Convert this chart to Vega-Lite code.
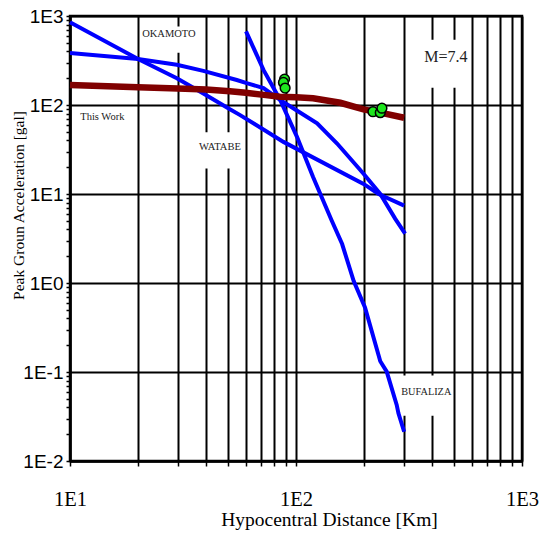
{
  "$schema": "https://vega.github.io/schema/vega-lite/v6.json",
  "width": 452,
  "height": 445,
  "autosize": {"type": "none"},
  "padding": {"left": 70, "top": 16, "right": 20, "bottom": 73},
  "background": "white",
  "config": {
    "view": {"stroke": "black", "strokeWidth": 2.5},
    "axis": {"domainColor": "black", "domainWidth": 2.5, "tickColor": "black", "tickWidth": 1.5}
  },
  "datasets": {
    "lines": [
      {"series": "This Work", "x": 10, "y": 168},
      {"series": "This Work", "x": 20, "y": 158},
      {"series": "This Work", "x": 30, "y": 153},
      {"series": "This Work", "x": 40, "y": 149},
      {"series": "This Work", "x": 51, "y": 143},
      {"series": "This Work", "x": 60, "y": 137},
      {"series": "This Work", "x": 72, "y": 130},
      {"series": "This Work", "x": 85, "y": 124},
      {"series": "This Work", "x": 100, "y": 122},
      {"series": "This Work", "x": 119, "y": 119},
      {"series": "This Work", "x": 157, "y": 106},
      {"series": "This Work", "x": 199, "y": 89.4},
      {"series": "This Work", "x": 236, "y": 82},
      {"series": "This Work", "x": 301, "y": 72},
      {"series": "OKAMOTO", "x": 10, "y": 850},
      {"series": "OKAMOTO", "x": 20, "y": 328},
      {"series": "OKAMOTO", "x": 29.7, "y": 200},
      {"series": "OKAMOTO", "x": 38.9, "y": 135},
      {"series": "OKAMOTO", "x": 51, "y": 89.4},
      {"series": "OKAMOTO", "x": 56.6, "y": 77},
      {"series": "OKAMOTO", "x": 88, "y": 38.5},
      {"series": "OKAMOTO", "x": 199, "y": 13},
      {"series": "OKAMOTO", "x": 232, "y": 10},
      {"series": "OKAMOTO", "x": 301, "y": 7.4},
      {"series": "WATABE", "x": 10, "y": 384},
      {"series": "WATABE", "x": 20, "y": 328},
      {"series": "WATABE", "x": 29.7, "y": 283},
      {"series": "WATABE", "x": 38.9, "y": 242},
      {"series": "WATABE", "x": 54.7, "y": 191},
      {"series": "WATABE", "x": 60.5, "y": 176},
      {"series": "WATABE", "x": 71.8, "y": 155},
      {"series": "WATABE", "x": 85, "y": 114},
      {"series": "WATABE", "x": 100, "y": 87.9},
      {"series": "WATABE", "x": 124, "y": 62.1},
      {"series": "WATABE", "x": 152, "y": 36.9},
      {"series": "WATABE", "x": 199, "y": 16.9},
      {"series": "WATABE", "x": 236, "y": 10},
      {"series": "WATABE", "x": 275, "y": 5.25},
      {"series": "WATABE", "x": 304, "y": 3.58},
      {"series": "BUFALIZA", "x": 60.1, "y": 673},
      {"series": "BUFALIZA", "x": 71.8, "y": 248},
      {"series": "BUFALIZA", "x": 85.1, "y": 114},
      {"series": "BUFALIZA", "x": 101, "y": 43.9},
      {"series": "BUFALIZA", "x": 119, "y": 15.5},
      {"series": "BUFALIZA", "x": 144, "y": 5.0},
      {"series": "BUFALIZA", "x": 160, "y": 2.74},
      {"series": "BUFALIZA", "x": 180, "y": 1.05},
      {"series": "BUFALIZA", "x": 202, "y": 0.53},
      {"series": "BUFALIZA", "x": 236, "y": 0.132},
      {"series": "BUFALIZA", "x": 252, "y": 0.101},
      {"series": "BUFALIZA", "x": 279, "y": 0.0427},
      {"series": "BUFALIZA", "x": 284, "y": 0.0343},
      {"series": "BUFALIZA", "x": 301, "y": 0.0213}
    ],
    "points": [
      {"x": 89, "y": 195},
      {"x": 88, "y": 179},
      {"x": 89.5, "y": 155},
      {"x": 219, "y": 84},
      {"x": 236, "y": 82},
      {"x": 240, "y": 92}
    ],
    "boxes": [
      {"x": 20.6, "x2": 37.6, "y": 760, "y2": 387},
      {"x": 36.1, "x2": 58.3, "y": 49.5, "y2": 19.4},
      {"x": 327, "x2": 578, "y": 542, "y2": 156},
      {"x": 283, "x2": 491, "y": 0.0912, "y2": 0.0322}
    ],
    "labels": [
      {"text": "OKAMOTO", "x": 27.4, "y": 630, "size": 10.5},
      {"text": "WATABE", "x": 46.1, "y": 33.8, "size": 10.5},
      {"text": "This Work", "x": 13.9, "y": 73.8, "size": 10.5},
      {"text": "M=7.4", "x": 460, "y": 346, "size": 16},
      {"text": "BUFALIZA", "x": 377, "y": 0.0603, "size": 10.3}
    ]
  },
  "layer": [
    {
      "data": {"name": "boxes"},
      "mark": {"type": "rect", "fill": "white"},
      "encoding": {
        "x": {
          "field": "x", "type": "quantitative",
          "scale": {"type": "log", "domain": [10, 1000]},
          "axis": {
            "values": [10, 20, 30, 40, 50, 60, 70, 80, 90, 100, 200, 300, 400, 500, 600, 700, 800, 900, 1000],
            "labelExpr": "abs(log(datum.value)/LN10 - round(log(datum.value)/LN10)) < 0.000001 ? '1E' + round(log(datum.value)/LN10) : ''",
            "labelOverlap": false,
            "labelFlush": false,
            "grid": true,
            "gridColor": "black",
            "gridWidth": 2,
            "gridOpacity": 1,
            "tickSize": 5,
            "labelFont": "Liberation Serif",
            "labelFontSize": 20.5,
            "labelColor": "black",
            "labelBaseline": "middle",
            "labelPadding": 33,
            "title": "Hypocentral Distance [Km]",
            "titleFont": "Liberation Serif",
            "titleFontSize": 19.5,
            "titleFontWeight": "normal",
            "titleColor": "black",
            "titleX": 259,
            "titleY": 58,
            "titleBaseline": "middle"
          }
        },
        "x2": {"field": "x2"},
        "y": {
          "field": "y", "type": "quantitative",
          "scale": {"type": "log", "domain": [0.01, 1000]},
          "axis": {
            "values": [0.01, 0.02, 0.03, 0.04, 0.05, 0.06, 0.07, 0.08, 0.09, 0.1, 0.2, 0.3, 0.4, 0.5, 0.6, 0.7, 0.8, 0.9, 1, 2, 3, 4, 5, 6, 7, 8, 9, 10, 20, 30, 40, 50, 60, 70, 80, 90, 100, 200, 300, 400, 500, 600, 700, 800, 900, 1000],
            "labelExpr": "abs(log(datum.value)/LN10 - round(log(datum.value)/LN10)) < 0.000001 ? '1E' + round(log(datum.value)/LN10) : ''",
            "labelOverlap": false,
            "labelFlush": false,
            "grid": true,
            "gridColor": {"condition": {"test": "abs(log(datum.value)/LN10 - round(log(datum.value)/LN10)) < 0.000001", "value": "black"}, "value": "transparent"},
            "gridWidth": 2,
            "gridOpacity": 1,
            "tickSize": 4,
            "labelFont": "Liberation Sans",
            "labelFontSize": 19,
            "labelColor": "black",
            "labelPadding": 3,
            "title": "Peak Groun Acceleration [gal]",
            "titleFont": "Liberation Serif",
            "titleFontSize": 15.5,
            "titleFontWeight": "normal",
            "titleColor": "black",
            "titleX": -52,
            "titleY": 189,
            "titleBaseline": "middle"
          }
        },
        "y2": {"field": "y2"}
      }
    },
    {
      "data": {"name": "labels"},
      "mark": {"type": "text", "font": "Liberation Serif", "color": "#222"},
      "encoding": {
        "x": {"field": "x", "type": "quantitative"},
        "y": {"field": "y", "type": "quantitative"},
        "text": {"field": "text"},
        "size": {"field": "size", "type": "quantitative", "scale": null}
      }
    },
    {
      "data": {"name": "lines"},
      "transform": [{"filter": "datum.series !== 'This Work'"}],
      "mark": {"type": "line", "color": "#0000ff", "strokeWidth": 4},
      "encoding": {
        "x": {"field": "x", "type": "quantitative"},
        "y": {"field": "y", "type": "quantitative"},
        "detail": {"field": "series"}
      }
    },
    {
      "data": {"name": "lines"},
      "transform": [{"filter": "datum.series === 'This Work'"}],
      "mark": {"type": "line", "color": "#800000", "strokeWidth": 6.5},
      "encoding": {
        "x": {"field": "x", "type": "quantitative"},
        "y": {"field": "y", "type": "quantitative"}
      }
    },
    {
      "data": {"name": "points"},
      "mark": {"type": "point", "shape": "circle", "filled": true, "fill": "#1ee61e", "stroke": "black", "strokeWidth": 1.5, "size": 95, "opacity": 1},
      "encoding": {
        "x": {"field": "x", "type": "quantitative"},
        "y": {"field": "y", "type": "quantitative"}
      }
    }
  ]
}
